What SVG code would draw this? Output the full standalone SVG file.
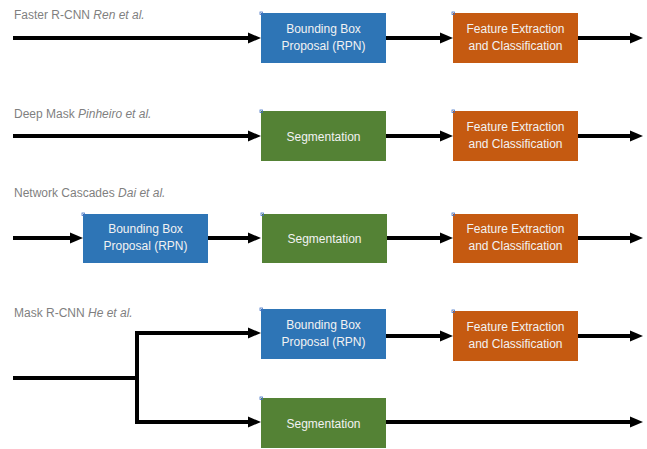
<svg xmlns="http://www.w3.org/2000/svg" width="647" height="449" viewBox="0 0 647 449">
<style>
.lbl{font-family:"Liberation Sans",Arial,sans-serif;font-size:12px;fill:#7f7f7f}
.bt{font-family:"Liberation Sans",Arial,sans-serif;font-size:12px;fill:#f2f2f2;text-anchor:middle}
.blue{fill:#2e75b6}
.green{fill:#548235}
.orange{fill:#c55a11}
.h{fill:none;stroke:#4472c4;stroke-width:0.8}
.c{fill:none;stroke:#000;stroke-width:4;marker-end:url(#ah)}
.n{fill:none;stroke:#000;stroke-width:4}
</style>
<defs>
<marker id="ah" markerUnits="userSpaceOnUse" markerWidth="14" markerHeight="12" refX="0" refY="6" orient="auto">
<path d="M0,0.5 L13,6 L0,11.5 z" fill="#000"/>
</marker>
</defs>
<g id="labels">
<text class="lbl" x="14" y="18.5">Faster R-CNN <tspan font-style="italic">Ren et al.</tspan></text>
<text class="lbl" x="14" y="117.5">Deep Mask <tspan font-style="italic">Pinheiro et al.</tspan></text>
<text class="lbl" x="14" y="197">Network Cascades <tspan font-style="italic">Dai et al.</tspan></text>
<text class="lbl" x="14" y="317">Mask R-CNN <tspan font-style="italic">He et al.</tspan></text>
</g>
<g id="connectors">
<path class="c" d="M13,38 H248"/>
<path class="c" d="M386,38 H440"/>
<path class="c" d="M578,38 H630"/>
<path class="c" d="M13,136 H248"/>
<path class="c" d="M386,136 H440"/>
<path class="c" d="M578,136 H630"/>
<path class="c" d="M13,238 H70"/>
<path class="c" d="M208,238 H248"/>
<path class="c" d="M386,238 H440"/>
<path class="c" d="M578,238 H630"/>
<path class="n" d="M13,378 H137"/>
<path class="n" d="M137,331 V424"/>
<path class="c" d="M135,333 H248"/>
<path class="c" d="M135,422 H248"/>
<path class="c" d="M386,336 H440"/>
<path class="c" d="M578,336 H630"/>
<path class="c" d="M386,422 H630"/>
</g>
<g id="r1-bbp"><rect class="blue" x="261" y="13" width="125" height="50"/><rect class="h" x="260" y="12" width="2.5" height="2.5"/><text class="bt" x="323.5" y="33">Bounding Box</text><text class="bt" x="323.5" y="50">Proposal (RPN)</text></g>
<g id="r1-fe"><rect class="orange" x="453" y="13" width="125" height="50"/><rect class="h" x="452" y="12" width="2.5" height="2.5"/><text class="bt" x="515.5" y="33">Feature Extraction</text><text class="bt" x="515.5" y="50">and Classification</text></g>
<g id="r2-seg"><rect class="green" x="261" y="111" width="125" height="50"/><rect class="h" x="260" y="110" width="2.5" height="2.5"/><text class="bt" x="323.5" y="140.5">Segmentation</text></g>
<g id="r2-fe"><rect class="orange" x="453" y="111" width="125" height="50"/><rect class="h" x="452" y="110" width="2.5" height="2.5"/><text class="bt" x="515.5" y="131">Feature Extraction</text><text class="bt" x="515.5" y="148">and Classification</text></g>
<g id="r3-bbp"><rect class="blue" x="83" y="214" width="125" height="49"/><rect class="h" x="82" y="213" width="2.5" height="2.5"/><text class="bt" x="145.5" y="233">Bounding Box</text><text class="bt" x="145.5" y="250">Proposal (RPN)</text></g>
<g id="r3-seg"><rect class="green" x="262" y="214" width="125" height="49"/><rect class="h" x="261" y="213" width="2.5" height="2.5"/><text class="bt" x="324.5" y="242.5">Segmentation</text></g>
<g id="r3-fe"><rect class="orange" x="453" y="214" width="125" height="49"/><rect class="h" x="452" y="213" width="2.5" height="2.5"/><text class="bt" x="515.5" y="233">Feature Extraction</text><text class="bt" x="515.5" y="250">and Classification</text></g>
<g id="r4-bbp"><rect class="blue" x="261" y="309" width="125" height="50"/><rect class="h" x="260" y="308" width="2.5" height="2.5"/><text class="bt" x="323.5" y="329">Bounding Box</text><text class="bt" x="323.5" y="346">Proposal (RPN)</text></g>
<g id="r4-fe"><rect class="orange" x="453" y="311" width="125" height="50"/><rect class="h" x="452" y="310" width="2.5" height="2.5"/><text class="bt" x="515.5" y="331">Feature Extraction</text><text class="bt" x="515.5" y="348">and Classification</text></g>
<g id="r4-seg"><rect class="green" x="261" y="398" width="125" height="50"/><rect class="h" x="260" y="397" width="2.5" height="2.5"/><text class="bt" x="323.5" y="427.5">Segmentation</text></g>
</svg>
